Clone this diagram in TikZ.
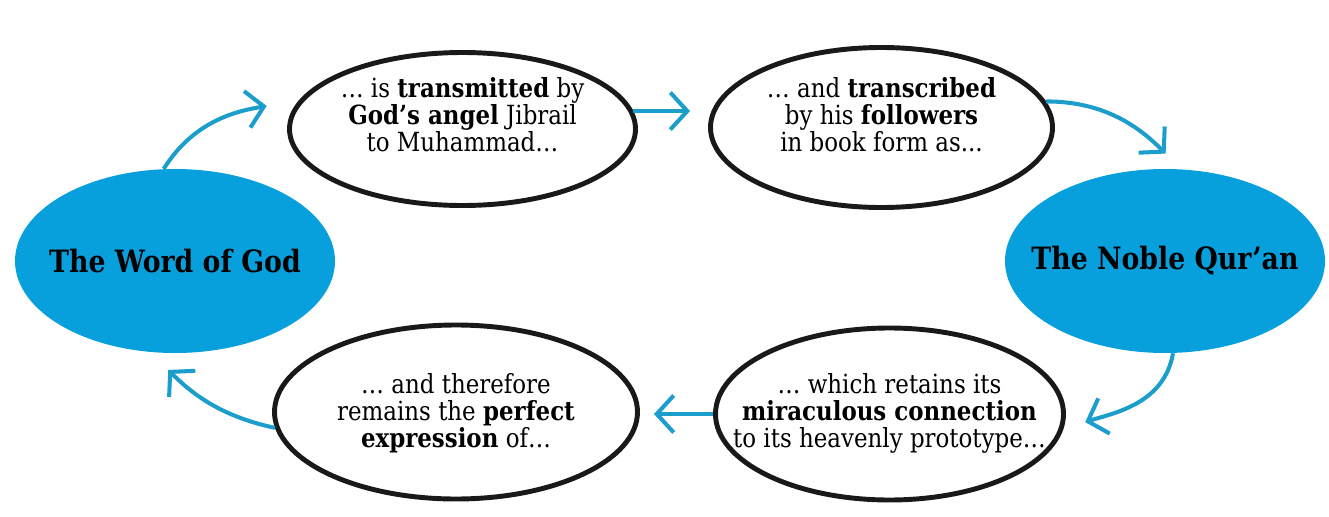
\documentclass[tikz,border=0pt]{standalone}
\usepackage{fontspec}
\setmainfont{DejaVu Serif}[FakeStretch=0.87]
\usepackage{xcolor}
\usetikzlibrary{positioning, arrows.meta, shapes.geometric}
\definecolor{qblue}{RGB}{8,160,220}
\definecolor{qarrow}{RGB}{28,158,204}

\begin{document}
\begin{tikzpicture}[
  core/.style={ellipse, fill=qblue, minimum width=6.4cm, minimum height=3.68cm, inner sep=0pt},
  coretext/.style={inner sep=0pt, font=\fontsize{17.5}{19}\selectfont\bfseries},
  bubble/.style={ellipse, draw=black!90, line width=2.8pt, fill=white, inner sep=0pt},
  bubbletext/.style={align=center, inner sep=0pt, font=\fontsize{15}{15.4}\selectfont},
  flow/.style={draw=qarrow, line width=2.3pt, -{Straight Barb[length=3.4mm, width=7.4mm]}}]
  \useasboundingbox (0,0) rectangle (26.58,10.32);
  \node[core] (word)  at (3.50,5.10)  {};
  \node[core] (quran) at (23.30,5.10) {};
  \node[coretext] (wordtxt)  at (word.center)  {The Word of God};
  \node[coretext] (qurantxt) at (quran.center) {The Noble Qur’an};
  \node[bubble, minimum width=6.92cm, minimum height=3.06cm] (transmit)   at (9.25,7.74)  {};
  \node[bubble, minimum width=6.84cm, minimum height=3.20cm] (transcribe) at (17.63,7.77) {};
  \node[bubble, minimum width=6.96cm, minimum height=3.44cm] (retain)     at (17.79,2.04) {};
  \node[bubble, minimum width=7.26cm, minimum height=3.48cm] (remain)     at (9.12,2.08)  {};
  \node[bubbletext] (transmittxt) at ([yshift=0.28cm]transmit.center)
    {… is \textbf{transmitted} by\\ \textbf{God’s angel} Jibrail\\ to Muhammad…};
  \node[bubbletext] (transcribetxt) at ([yshift=0.26cm]transcribe.center)
    {… and \textbf{transcribed}\\ by his \textbf{followers}\\ in book form as...};
  \node[bubbletext] (retaintxt) at ([yshift=0.02cm]retain.center)
    {… which retains its\\ \textbf{miraculous connection}\\ to its heavenly prototype…};
  \node[bubbletext] (remaintxt) at ([yshift=-0.02cm]remain.center)
    {… and therefore\\ remains the \textbf{perfect}\\ \textbf{expression} of…};
  \draw[flow, shorten >=0.66cm] (word.97) to[out=58, in=190] (transmit.170);
  \draw[flow, shorten >=0.36cm] (transmit.6) -- (transmit.6 -| transcribe.west);
  \draw[flow, shorten >=0.44cm] (transcribe.9) to[out=0, in=135] (quran.80);
  \draw[flow, shorten >=0.46cm] (quran.275) to[out=-100, in=18] (retain.355);
  \draw[flow, shorten >=0.28cm] (retain.west) -- (retain.west -| remain.east);
  \draw[flow, shorten >=0.5cm] (remain.185) to[out=168, in=-45] (word.255);
\end{tikzpicture}
\end{document}
